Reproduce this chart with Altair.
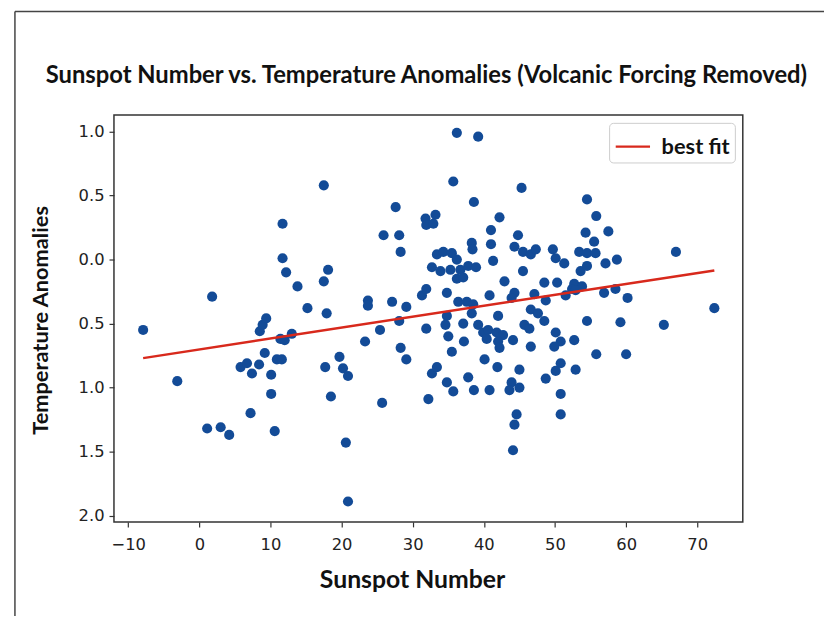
import altair as alt
import pandas as pd

# Sunspot number (x) and temperature anomaly (y)
sunspots = [
    -7.9, -3.1, 1.8, 1.1, 3.0, 4.2, 7.2, 10.6, 10.1, 10.1,
    5.8, 6.7, 7.4, 8.4, 9.2, 10.9, 11.6, 8.5, 8.9, 9.4,
    11.4, 12.0, 13.0, 11.7, 11.7, 12.2, 13.8, 15.2, 17.5, 17.5,
    18.1, 17.9, 17.7, 18.5,
    27.6, 38.6, 31.8, 33.2, 31.9, 32.9, 25.9, 28.1, 28.3, 23.7,
    23.7, 27.1, 29.1, 28.1, 25.4, 23.3, 28.3, 29.1, 19.7, 20.2,
    20.9, 25.7, 31.9, 31.3, 31.9, 34.8,
    33.4, 34.3, 35.5, 36.2, 32.7, 33.9, 35.3, 36.7, 36.2, 37.1, 37.8, 38.9,
    38.3, 38.4, 41.0, 41.0, 41.3, 36.4, 37.6, 38.5, 34.8, 34.6,
    35.0, 37.1, 38.3, 35.5, 37.2, 39.2, 39.9, 40.4, 40.1, 32.7,
    33.4, 34.8, 35.7, 37.8, 38.6, 32.2, 40.8,
    45.3, 54.5, 55.8, 57.5, 42.2, 44.8, 44.3, 45.5, 46.6, 47.3,
    49.7, 50.1, 51.3, 54.3, 55.5, 53.4, 54.5, 55.7, 57.1, 58.7,
    53.6, 54.5, 45.5, 42.9, 48.5, 50.3, 52.7, 53.8, 52.4, 51.5,
    52.9, 56.9, 58.5, 60.2, 40.8, 44.3, 43.9, 47.1, 48.7, 46.6,
    47.6, 48.5, 42.0, 45.7, 46.4, 54.5, 59.2, 40.6, 41.8, 42.7,
    42.0, 44.1, 42.2, 50.1, 50.8, 52.7, 49.9, 46.6, 55.8, 60.0,
    41.9, 45.0, 50.8, 50.1, 48.7, 52.9, 43.9, 43.6, 45.0, 50.8,
    50.8, 44.6, 44.3, 20.6, 20.9, 44.1, 72.4, 65.3, 67.0, 36.2,
    39.2, 35.7,
]
anomalies = [
    -0.55, -0.95, -0.29, -1.32, -1.31, -1.37, -1.20, -1.34, -1.05, -0.90,
    -0.84, -0.81, -0.89, -0.82, -0.73, -0.78, -0.78, -0.56, -0.51, -0.46,
    -0.62, -0.63, -0.58, 0.28, 0.01, -0.10, -0.21, -0.38, 0.58, -0.17,
    -0.08, -0.42, -0.84, -1.07,
    0.41, 0.45, 0.32, 0.35, 0.27, 0.28, 0.19, 0.19, 0.06, -0.32,
    -0.36, -0.33, -0.37, -0.48, -0.55, -0.64, -0.69, -0.78, -0.76, -0.85,
    -0.91, -1.12, -0.54, -0.28, -0.23, -0.26,
    0.04, 0.06, 0.05, 0.00, -0.06, -0.09, -0.08, -0.08, -0.15, -0.14, -0.05, -0.06,
    0.13, 0.08, 0.23, 0.12, -0.01, -0.33, -0.33, -0.35, -0.44, -0.51,
    -0.60, -0.50, -0.42, -0.72, -0.64, -0.51, -0.57, -0.62, -0.78, -0.89,
    -0.84, -0.96, -1.03, -0.92, -1.02, -1.09, -1.02,
    0.56, 0.47, 0.34, 0.22, 0.33, 0.19, 0.10, 0.06, 0.04, 0.08,
    0.08, 0.01, -0.03, 0.21, 0.14, 0.06, 0.05, 0.05, -0.03, 0.00,
    -0.09, -0.05, -0.09, -0.17, -0.18, -0.18, -0.19, -0.21, -0.23, -0.28,
    -0.24, -0.26, -0.23, -0.30, -0.28, -0.26, -0.30, -0.27, -0.32, -0.39,
    -0.42, -0.48, -0.44, -0.51, -0.54, -0.48, -0.49, -0.55, -0.57, -0.59,
    -0.64, -0.63, -0.69, -0.57, -0.64, -0.63, -0.68, -0.68, -0.74, -0.74,
    -0.84, -0.86, -0.81, -0.87, -0.93, -0.86, -0.96, -1.02, -1.00, -1.05,
    -1.21, -1.21, -1.29, -1.43, -1.89, -1.49, -0.38, -0.51, 0.06, 0.99,
    0.96, 0.61,
]

# Best-fit line end points
fit_x = [-7.9, 72.4]
fit_y = [-0.77, -0.085]
fit_label = ["best fit", "best fit"]

x_ticks = [-10, 0, 10, 20, 30, 40, 50, 60, 70]
y_ticks = [1.0, 0.5, 0.0, -0.5, -1.0, -1.5, -2.0]

pts = pd.DataFrame({"x": sunspots, "y": anomalies})
fit = pd.DataFrame({"x": fit_x, "y": fit_y, "series": fit_label})

TICK_FONT = "DejaVu Sans"
TITLE_FONT = "Lato"

xscale = alt.Scale(domain=[-12.0, 76.4], nice=False, zero=False)
yscale = alt.Scale(domain=[-2.05, 1.13], nice=False, zero=False)

x_axis = alt.Axis(
    values=x_ticks, format="d", grid=False, domain=False,
    tickColor="#333", tickSize=5, tickWidth=1.2,
    labelFont=TICK_FONT, labelFontSize=16.5, labelColor="#222", labelPadding=10,
    title="Sunspot Number", titleFont=TITLE_FONT, titleFontSize=25,
    titleFontWeight="bold", titleColor="#111",
    titleX=301, titleY=66, titleBaseline="alphabetic", titleAnchor="start", titleAlign="center",
)
y_axis = alt.Axis(
    values=y_ticks, grid=False, domain=False,
    labelExpr="format(abs(datum.value), '.1f')",
    tickColor="#333", tickSize=5, tickWidth=1.2,
    labelFont=TICK_FONT, labelFontSize=16.5, labelColor="#222", labelPadding=5,
    title="Temperature Anomalies", titleFont=TITLE_FONT, titleFontSize=22,
    titleFontWeight="bold", titleColor="#111",
    titleX=-67, titleY=207, titleAngle=-90, titleBaseline="alphabetic", titleAlign="center",
)

points = alt.Chart(pts).mark_circle(size=105, color="#134b97", opacity=1).encode(
    x=alt.X("x:Q", scale=xscale, axis=x_axis),
    y=alt.Y("y:Q", scale=yscale, axis=y_axis),
)

line = alt.Chart(fit).mark_line(strokeWidth=2.5).encode(
    x=alt.X("x:Q", scale=xscale),
    y=alt.Y("y:Q", scale=yscale),
    color=alt.Color(
        "series:N",
        scale=alt.Scale(domain=["best fit"], range=["#d8291c"]),
        legend=alt.Legend(
            title=None, orient="top-right", offset=8,
            symbolType="stroke", symbolSize=1200, symbolStrokeWidth=2.5,
            labelFont=TITLE_FONT, labelFontSize=22, labelFontWeight="bold",
            labelColor="#111", fillColor="white", strokeColor="#cccccc",
            cornerRadius=4, padding=5, labelOffset=10,
        ),
    ),
)

frame = alt.Chart(alt.Data(values=[{}])).mark_rule(color="#444", strokeWidth=1.5).encode(
    x=alt.value(-100), y=alt.value(-104.5), y2=alt.value(520)
)
frame_top = alt.Chart(alt.Data(values=[{}])).mark_rule(color="#444", strokeWidth=1.5).encode(
    x=alt.value(-100), x2=alt.value(720), y=alt.value(-104.5)
)

chart = (
    alt.layer(points, line, frame, frame_top)
    .properties(
        width=635, height=411,
        autosize=alt.AutoSizeParams(type="none"),
        padding={"left": 107, "top": 105, "right": 82, "bottom": 92},
        title=alt.Title(
            "Sunspot Number vs. Temperature Anomalies (Volcanic Forcing Removed)",
            font=TITLE_FONT, fontSize=24, fontWeight="bold", color="#111",
            anchor="middle", offset=24, dx=-2, dy=121, baseline="alphabetic",
        ),
    )
    .configure(
        background="white",
        view=alt.ViewConfig(stroke="#333", strokeWidth=1.5),
    )
)

chart.save("out.html", embed_options={"renderer": "svg", "actions": False})
